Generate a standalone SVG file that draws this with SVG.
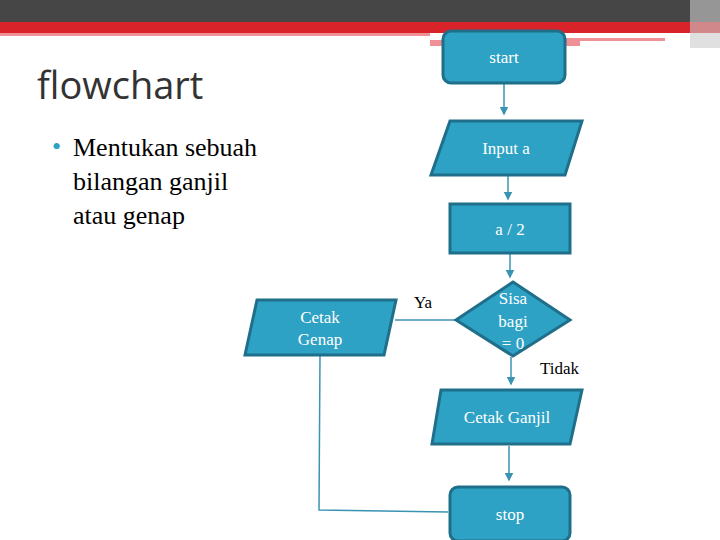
<svg xmlns="http://www.w3.org/2000/svg" width="720" height="540" viewBox="0 0 720 540">
<style>
.n{fill:#2ea2c4;stroke:#1f6f8a;stroke-width:3}
.t{font-family:"Liberation Serif",serif;font-size:17px;fill:#fff;text-anchor:middle}
.c{stroke:#3b93b3;stroke-width:1.5;fill:none}
.b{font-family:"Liberation Serif",serif;font-size:17px;fill:#000}
</style>
<defs><marker id="a" markerWidth="6" markerHeight="6" refX="5" refY="3" orient="auto"><path d="M0,0L6,3L0,6z" fill="#3b93b3"/></marker></defs>
<rect width="720" height="540" fill="#fff"/>
<rect width="720" height="22" fill="#464646"/>
<rect y="22" width="720" height="11" fill="#d9232a"/>
<rect y="33" width="430" height="3" fill="#ee9095"/>
<rect x="430" y="40" width="150" height="6" fill="#ee9095"/>
<rect x="565" y="38" width="100" height="3" fill="#ee9095"/>
<rect x="690" y="0" width="30" height="48" fill="#ccc" opacity="0.6"/>
<text x="37" y="99" font-family="Open Sans,sans-serif" font-size="38" fill="#333">flowchart</text>
<text x="52" y="155" font-family="Liberation Serif,serif" font-size="26" fill="#2ea2c4">•</text>
<text font-family="Liberation Serif,serif" font-size="26" fill="#000"><tspan x="73" y="156">Mentukan sebuah</tspan><tspan x="73" y="190">bilangan ganjil</tspan><tspan x="73" y="224">atau genap</tspan></text>
<g id="connectors">
<path class="c" d="M504,84V114" marker-end="url(#a)"/>
<path class="c" d="M508,176V199" marker-end="url(#a)"/>
<path class="c" d="M510,254V277" marker-end="url(#a)"/>
<path class="c" d="M456,320H395"/>
<path class="c" d="M511,357V384" marker-end="url(#a)"/>
<path class="c" d="M509,446V480" marker-end="url(#a)"/>
<path class="c" d="M320,356L319,510L448,512"/>
<text class="b" x="414" y="308">Ya</text>
<text class="b" x="540" y="374">Tidak</text>
</g>
<g id="start"><rect class="n" x="443" y="31" width="122" height="52" rx="8"/><text class="t" x="504" y="63">start</text></g>
<g id="input"><path class="n" d="M450,121H582L565,175H431Z"/><text class="t" x="506" y="154">Input a</text></g>
<g id="div"><rect class="n" x="450" y="204" width="120" height="49"/><text class="t" x="510" y="235">a / 2</text></g>
<g id="decision"><path class="n" d="M513,282L570,320L513,356L456,320Z"/><text class="t" x="513" y="304">Sisa</text><text class="t" x="513" y="327">bagi</text><text class="t" x="513" y="349">= 0</text></g>
<g id="genap"><path class="n" d="M257,300H396L384,355H245Z"/><text class="t" x="320" y="323">Cetak</text><text class="t" x="320" y="345">Genap</text></g>
<g id="ganjil"><path class="n" d="M441,390H582L570,444H432Z"/><text class="t" x="507" y="423">Cetak Ganjil</text></g>
<g id="stop"><rect class="n" x="450" y="487" width="120" height="54" rx="8"/><text class="t" x="510" y="520">stop</text></g>
</svg>
